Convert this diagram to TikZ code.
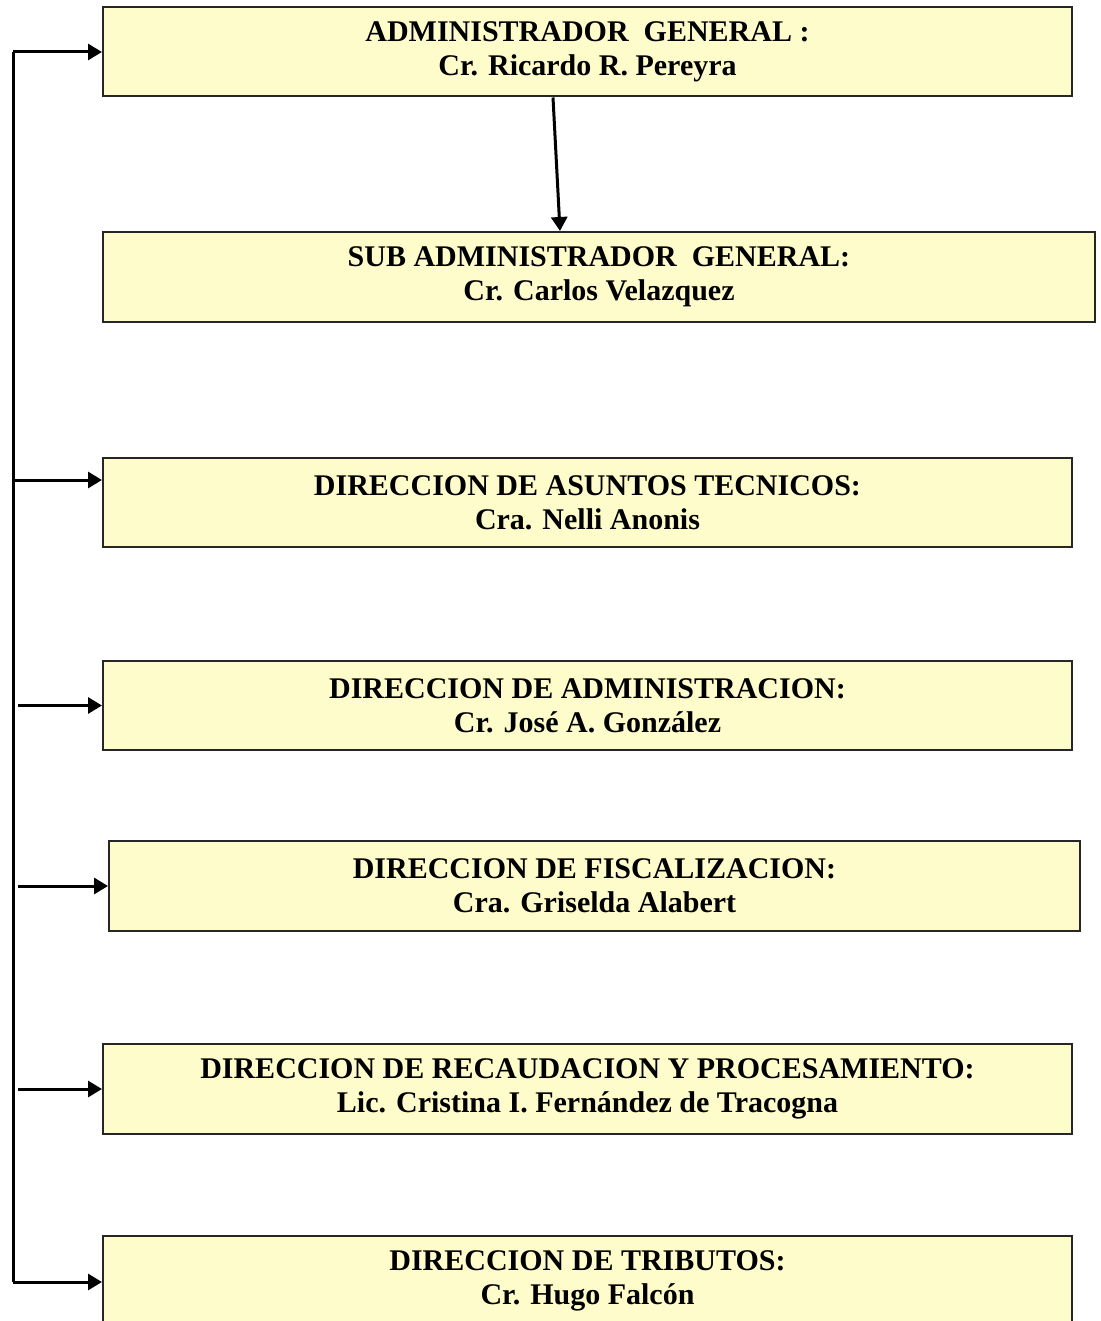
\documentclass[tikz,border=0pt]{standalone}
\usepackage{fontspec}
\setmainfont{Liberation Serif}
\usepackage{tikz}
\usetikzlibrary{positioning,arrows.meta}

\begin{document}
\begin{tikzpicture}[x=0.5pt, y=-0.5pt,
  box/.style={draw=black!85, line width=1pt, fill=yellow!20, rectangle, align=center,
    inner sep=0pt, minimum height=44.5pt,
    font=\bfseries\fontsize{15}{17}\selectfont},
  arr/.style={line width=1.5pt, -{Triangle[length=7pt,width=8pt]}}]
\useasboundingbox (0,0) rectangle (1101,1321);

\node[box, minimum width=484.5pt] (adm) at (587.5,52) {ADMINISTRADOR\ \ GENERAL :\\Cr. Ricardo R. Pereyra};
\node[box, minimum width=496pt, minimum height=45pt] (sub) at (599,277) {SUB ADMINISTRADOR\ \ GENERAL:\\Cr. Carlos Velazquez};
\node[box, minimum width=484.5pt] (tec) at (587.5,502.5) {DIRECCION DE ASUNTOS TECNICOS:\\Cra. Nelli Anonis};
\node[box, minimum width=484.5pt] (adn) at (587.5,705.5) {DIRECCION DE ADMINISTRACION:\\Cr. Jos\'e A. Gonz\'alez};
\node[box, minimum width=485.5pt, minimum height=45pt] (fis) at (594.5,886) {DIRECCION DE FISCALIZACION:\\Cra. Griselda Alabert};
\node[box, minimum width=484.5pt, minimum height=45pt] (rec) at (587.5,1089) {DIRECCION DE RECAUDACION Y PROCESAMIENTO:\\Lic. Cristina I. Fern\'andez de Tracogna};
\node[box, minimum width=484.5pt, minimum height=45pt] (tri) at (587.5,1281) {DIRECCION DE TRIBUTOS:\\Cr. Hugo Falc\'on};

% linea vertical
\coordinate (bt) at (13,52);
\coordinate (bb) at (13,1282);
\draw[line width=1.5pt] (bt) -- (bb);

\draw[arr] (bt) -- (adm.west);
\draw[arr] (adm.south -| 553,0) -- (sub.north -| 560,0);
\coordinate (b3) at (13,480);
\draw[arr] (b3) -- (b3 -| tec.west);
\foreach \n in {adn, fis, rec}{
  \coordinate (s\n) at (18,0 |- \n.west);
  \draw[arr] (s\n) -- (\n.west);
}
\draw[arr] (bb) -- (bb -| tri.west);

\end{tikzpicture}
\end{document}
